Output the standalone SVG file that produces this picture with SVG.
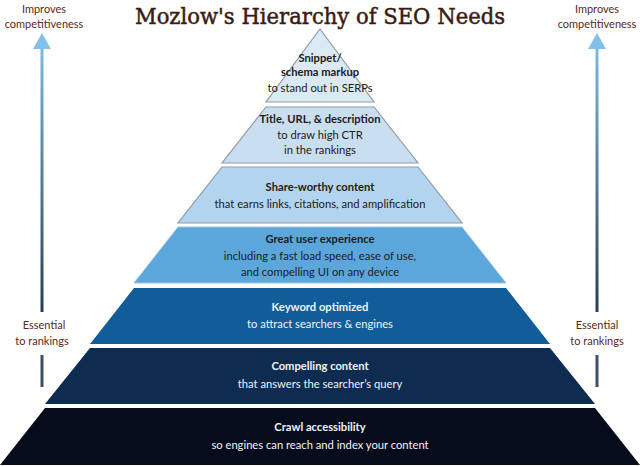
<svg xmlns="http://www.w3.org/2000/svg" width="640" height="467" viewBox="0 0 640 467">
  <defs>
    <linearGradient id="arrowGradL" gradientUnits="userSpaceOnUse" x1="0" y1="33" x2="0" y2="312">
      <stop offset="0" stop-color="#82c0ea"/>
      <stop offset="1" stop-color="#2b3e56"/>
    </linearGradient>
    <linearGradient id="arrowGradR" gradientUnits="userSpaceOnUse" x1="0" y1="33" x2="0" y2="312">
      <stop offset="0" stop-color="#82c0ea"/>
      <stop offset="1" stop-color="#2b3e56"/>
    </linearGradient>
  </defs>
  <style>
    .title { font-family: "DejaVu Serif", "Liberation Serif", serif; font-size: 23px; fill: #3b1b12; stroke: #3b1b12; stroke-width: 0.5; }
    .side { font-family: Lato, "Liberation Sans", sans-serif; font-size: 11px; fill: #5a2818; text-anchor: middle; }
    .h { font-family: Lato, "Liberation Sans", sans-serif; font-size: 11.2px; font-weight: bold; text-anchor: middle; }
    .s { font-family: Lato, "Liberation Sans", sans-serif; font-size: 11.2px; text-anchor: middle; }
    .dark { fill: #231a16; }
    .light { fill: #eef3f8; }
    .shaft { stroke-width: 3; fill: none; }
    .stub { stroke: #3d5068; stroke-width: 3; }
  </style>
  <rect width="640" height="467" fill="#ffffff"/>

  <text class="title" x="320" y="24" text-anchor="middle" textLength="370" lengthAdjust="spacingAndGlyphs">Mozlow's Hierarchy of SEO Needs</text>

  <g id="connectors">
    <line class="shaft" x1="42" y1="312" x2="42" y2="46" stroke="url(#arrowGradL)"/>
    <polygon points="42,33 33,49 51,49" fill="#82c0ea"/>
    <line class="stub" x1="42" y1="355" x2="42" y2="387"/>
    <line class="shaft" x1="597" y1="312" x2="597" y2="46" stroke="url(#arrowGradR)"/>
    <polygon points="597,33 588,49 606,49" fill="#82c0ea"/>
    <line class="stub" x1="597" y1="355" x2="597" y2="387"/>
  </g>

  <g id="label-left-top">
    <text class="side" x="44" y="13">Improves</text>
    <text class="side" x="44" y="28">competitiveness</text>
  </g>
  <g id="label-right-top">
    <text class="side" x="597" y="13">Improves</text>
    <text class="side" x="597" y="28">competitiveness</text>
  </g>
  <g id="label-left-mid">
    <text class="side" x="44" y="329">Essential</text>
    <text class="side" x="42" y="345">to rankings</text>
  </g>
  <g id="label-right-mid">
    <text class="side" x="597" y="329">Essential</text>
    <text class="side" x="597" y="345">to rankings</text>
  </g>

  <g id="layer1">
    <polygon points="320,29 374,102 266,102" fill="#dbe9f4" stroke="#8f9ca8" stroke-width="1.2"/>
    <text class="h dark" x="320" y="62">Snippet/</text>
    <text class="h dark" x="320" y="76">schema markup</text>
    <text class="s dark" x="320" y="92">to stand out in SERPs</text>
  </g>
  <g id="layer2">
    <polygon points="266,107 374,107 418,163 222,163" fill="#c9dff0" stroke="#8f9ca8" stroke-width="1.2"/>
    <text class="h dark" x="320" y="123">Title, URL, &amp; description</text>
    <text class="s dark" x="320" y="139">to draw high CTR</text>
    <text class="s dark" x="320" y="154">in the rankings</text>
  </g>
  <g id="layer3">
    <polygon points="222,167 418,167 462,223 178,223" fill="#b3d4ee" stroke="#8f9ca8" stroke-width="1.2"/>
    <text class="h dark" x="320" y="191">Share-worthy content</text>
    <text class="s dark" x="320" y="208">that earns links, citations, and amplification</text>
  </g>
  <g id="layer4">
    <polygon points="178,227 462,227 506,283 134,283" fill="#5ba7dc" stroke="#9fc4de" stroke-width="1"/>
    <text class="h dark" x="320" y="243">Great user experience</text>
    <text class="s dark" x="320" y="260">including a fast load speed, ease of use,</text>
    <text class="s dark" x="320" y="276">and compelling UI on any device</text>
  </g>
  <g id="layer5">
    <polygon points="134,288 506,288 550,344 90,344" fill="#115d99"/>
    <text class="h light" x="320" y="311">Keyword optimized</text>
    <text class="s light" x="320" y="328">to attract searchers &amp; engines</text>
  </g>
  <g id="layer6">
    <polygon points="90,348 550,348 595,404 45,404" fill="#0e2c50"/>
    <text class="h light" x="320" y="370">Compelling content</text>
    <text class="s light" x="320" y="388">that answers the searcher’s query</text>
  </g>
  <g id="layer7">
    <polygon points="45,408 595,408 640,465 0,465" fill="#070c1c"/>
    <text class="h light" x="320" y="431">Crawl accessibility</text>
    <text class="s light" x="320" y="449">so engines can reach and index your content</text>
  </g>
</svg>
